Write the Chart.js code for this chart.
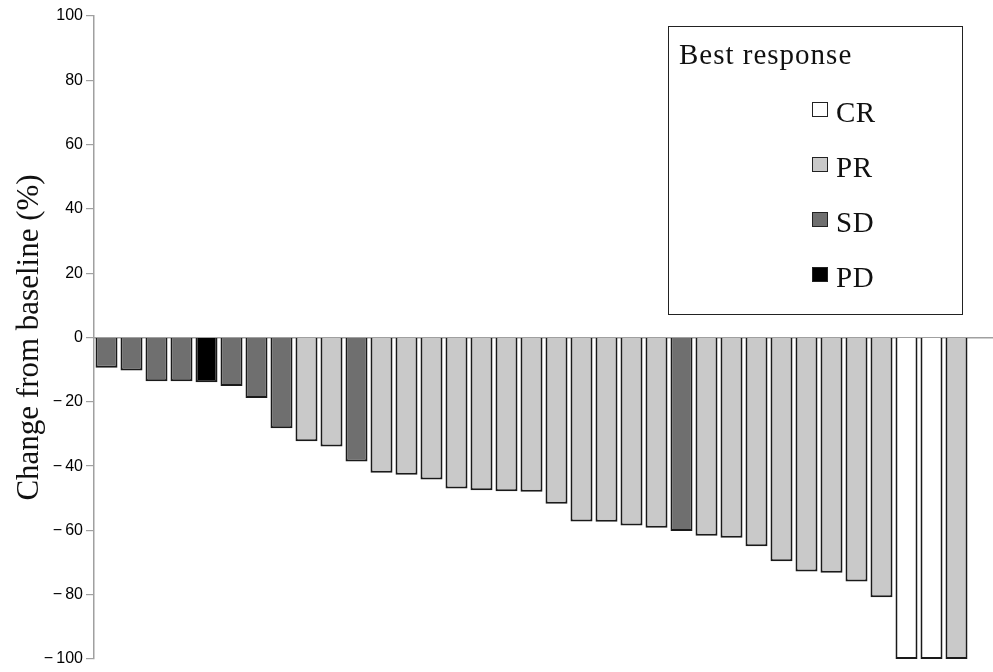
<!DOCTYPE html>
<html>
<head>
<meta charset="utf-8">
<script src="https://cdn.jsdelivr.net/npm/chart.js@4"></script>
<style>
  body { margin: 0; background: #fff; }
  #wrap { position: relative; width: 993px; height: 672px; }
  #legend {
    position: absolute; left: 668px; top: 26px; width: 295px; height: 289px;
    box-sizing: border-box; border: 1.5px solid #222;
    font-family: "Liberation Serif", serif; color: #111;
  }
  #legend .title { position: absolute; left: 10px; top: 7px; font-size: 29px; line-height: 40px; letter-spacing: 1px; white-space: nowrap; }
  #legend .item { position: absolute; left: 143px; height: 55px; width: 140px; font-size: 29px; line-height: 55px; }
  #legend .sw { position: absolute; left: 0; top: 17px; width: 16px; height: 15px; box-sizing: border-box; border: 1.5px solid #222; }
  #legend .lab { position: absolute; left: 24px; top: 0; letter-spacing: 0.5px; }
</style>
</head>
<body>
<div id="wrap">
  <canvas id="waterfall" width="993" height="672"></canvas>
  <div id="legend"><div class="title">Best response</div></div>
</div>
<script>
// === DATA ===
const patients = [1, 2, 3, 4, 5, 6, 7, 8, 9, 10, 11, 12, 13, 14, 15, 16, 17, 18,
                  19, 20, 21, 22, 23, 24, 25, 26, 27, 28, 29, 30, 31, 32, 33, 34, 35];
const changes = [-9.4, -10.3, -13.6, -13.6, -13.9, -15.1, -18.8, -28.2, -32.3, -33.9,
                 -38.6, -42.1, -42.7, -44.2, -47.0, -47.5, -47.8, -48.0, -51.7, -57.2,
                 -57.3, -58.5, -59.2, -60.2, -61.7, -62.3, -64.9, -69.6, -72.8, -73.2,
                 -75.9, -80.8, -100, -100, -100];
const responses = ["SD", "SD", "SD", "SD", "PD", "SD", "SD", "SD", "PR", "PR",
                   "SD", "PR", "PR", "PR", "PR", "PR", "PR", "PR", "PR", "PR",
                   "PR", "PR", "PR", "SD", "PR", "PR", "PR", "PR", "PR", "PR",
                   "PR", "PR", "CR", "CR", "PR"];
const responseTypes = ["CR", "PR", "SD", "PD"];
const yTicks = [-100, -80, -60, -40, -20, 0, 20, 40, 60, 80, 100];

const responseColors = { CR: "#ffffff", PR: "#c9c9c9", SD: "#6f6f6f", PD: "#000000" };
const axisGrey = "#a0a0a0";

// === LEGEND (html) ===
const legend = document.getElementById("legend");
responseTypes.forEach((r, i) => {
    const item = document.createElement("div");
    item.className = "item";
    item.style.top = (58 + i * 55) + "px";
    item.innerHTML = '<span class="sw" style="background:' + responseColors[r] + '"></span>' +
                     '<span class="lab">' + r + '</span>';
    legend.appendChild(item);
});

// === CHART ===
const ctx = document.getElementById("waterfall").getContext("2d");

const chart = new Chart(ctx, {
    type: "bar",
    data: {
        datasets: [{
            data: patients.map((p, i) => ({ x: p, y: changes[i] })),
            backgroundColor: responses.map(r => responseColors[r]),
            borderColor: "#1a1a1a",
            borderWidth: 2,
            categoryPercentage: 1,
            barPercentage: 0.88
        }]
    },
    options: {
        responsive: false,
        animation: false,
        layout: { padding: { left: 0, right: 0, top: 16, bottom: 13 } },
        plugins: { legend: { display: false }, tooltip: { enabled: false } },
        scales: {
            x: {
                type: "linear",
                position: { y: 0 },
                min: 0.5,
                max: 36.46,
                offset: false,
                z: 1,
                ticks: { display: false },
                grid: { display: false },
                border: { display: true, color: axisGrey, width: 1.5 }
            },
            y: {
                min: -100,
                max: 100,
                afterBuildTicks: (scale) => { scale.ticks = yTicks.map(v => ({ value: v })); },
                afterFit: (scale) => { scale.width = 94; },
                ticks: {
                    color: "#000",
                    padding: 3,
                    font: { family: "Liberation Sans", size: 16 },
                    callback: (v) => v < 0 ? "\u2212\u2009" + Math.abs(v) : String(v)
                },
                grid: { drawOnChartArea: false, drawTicks: true, tickLength: 8, color: axisGrey, lineWidth: 1.2 },
                border: { color: axisGrey, width: 1.5 },
                title: {
                    display: true,
                    text: "Change from baseline (%)",
                    color: "#111",
                    font: { family: "Liberation Serif", size: 31 },
                    padding: { top: 11, bottom: 0 }
                }
            }
        }
    }
});
</script>
</body>
</html>
